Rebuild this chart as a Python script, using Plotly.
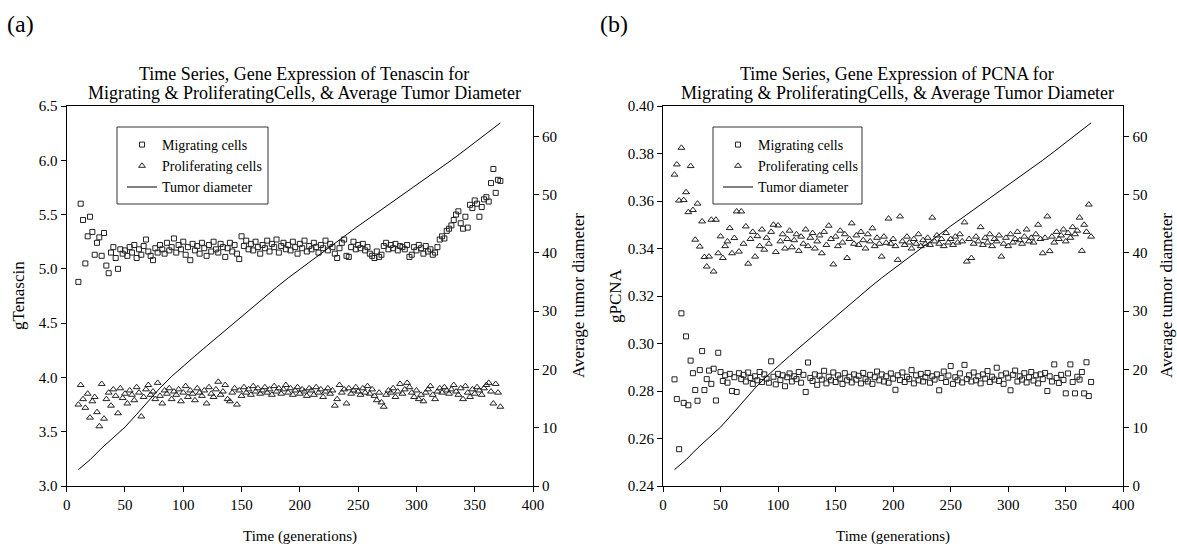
import plotly.graph_objects as go

W, H = 1177, 554

# generations at which cell-state expression was sampled
gens = list(range(10, 373, 2))

# Panel (a): gTenascin
mig_a = [
    4.88, 5.60, 5.45, 5.05, 5.30, 5.48, 5.34, 5.13, 5.24, 5.29,
    5.12, 5.33, 5.03, 4.96, 5.15, 5.20, 5.10, 5.00, 5.18, 5.14,
    5.17, 5.12, 5.20, 5.15, 5.22, 5.10, 5.18, 5.13, 5.21, 5.27,
    5.16, 5.12, 5.08, 5.19, 5.15, 5.22, 5.18, 5.14, 5.24, 5.17,
    5.20, 5.28, 5.15, 5.22, 5.18, 5.25, 5.13, 5.20, 5.08, 5.23,
    5.17, 5.21, 5.14, 5.24, 5.19, 5.12, 5.22, 5.16, 5.25, 5.18,
    5.15, 5.23, 5.20, 5.11, 5.19, 5.24, 5.16, 5.22, 5.14, 5.09,
    5.30, 5.21, 5.26, 5.18, 5.23, 5.17, 5.25, 5.20, 5.14, 5.22,
    5.19, 5.26, 5.16, 5.23, 5.20, 5.27, 5.15, 5.21, 5.24, 5.18,
    5.22, 5.17, 5.25, 5.20, 5.14, 5.23, 5.19, 5.26, 5.16, 5.21,
    5.18, 5.24, 5.20, 5.15, 5.22, 5.19, 5.26, 5.17, 5.23, 5.20,
    5.14, 5.10, 5.19, 5.24, 5.27, 5.12, 5.11, 5.20, 5.25, 5.18,
    5.22, 5.19, 5.23, 5.17, 5.20, 5.14, 5.12, 5.10, 5.16, 5.11,
    5.13, 5.21, 5.24, 5.18, 5.22, 5.19, 5.23, 5.17, 5.21, 5.20,
    5.18, 5.22, 5.11, 5.13, 5.20, 5.17, 5.22, 5.19, 5.14, 5.21,
    5.16, 5.18, 5.13, 5.15, 5.20, 5.27, 5.30, 5.28, 5.35, 5.37,
    5.40, 5.45, 5.50, 5.53, 5.42, 5.37, 5.48, 5.38, 5.59, 5.56,
    5.63, 5.60, 5.48, 5.57, 5.64, 5.66, 5.62, 5.79, 5.92, 5.70,
    5.82, 5.81,
]
pro_a = [
    3.75, 3.93, 3.80, 3.72, 3.85, 3.63, 3.78, 3.82, 3.68, 3.55,
    3.94, 3.62, 3.80, 3.86, 3.74, 3.89, 3.83, 3.67, 3.90, 3.81,
    3.85, 3.76, 3.88, 3.84, 3.79, 3.91, 3.86, 3.64, 3.82, 3.89,
    3.93, 3.84, 3.87, 3.80, 3.95, 3.83, 3.76, 3.88, 3.85, 3.90,
    3.80, 3.87, 3.84, 3.89, 3.78, 3.86, 3.92, 3.82, 3.88, 3.85,
    3.79, 3.90, 3.86, 3.83, 3.88, 3.76, 3.91, 3.85, 3.82, 3.89,
    3.96, 3.84, 3.87, 3.93, 3.80, 3.78, 3.86, 3.90, 3.75, 3.88,
    3.83, 3.91, 3.86, 3.89, 3.84, 3.92, 3.87, 3.90, 3.85, 3.88,
    3.91, 3.86, 3.89, 3.84, 3.92, 3.87, 3.90, 3.85, 3.89, 3.93,
    3.86, 3.90, 3.84, 3.88, 3.91, 3.85, 3.89, 3.87, 3.83, 3.90,
    3.88, 3.84, 3.91, 3.86, 3.89, 3.82, 3.87, 3.90, 3.85, 3.88,
    3.74, 3.80, 3.93, 3.86, 3.89, 3.76, 3.90, 3.85, 3.88, 3.91,
    3.87, 3.84, 3.90, 3.86, 3.92, 3.85, 3.89, 3.83, 3.79, 3.86,
    3.77, 3.73, 3.84, 3.88, 3.86, 3.90, 3.82, 3.87, 3.94, 3.85,
    3.89, 3.95, 3.91, 3.86, 3.82, 3.88, 3.80, 3.84, 3.78, 3.86,
    3.89, 3.92, 3.84, 3.80, 3.87, 3.90, 3.86, 3.91, 3.88, 3.85,
    3.89, 3.93, 3.87, 3.84, 3.90, 3.80, 3.92, 3.86, 3.82, 3.89,
    3.85, 3.91, 3.88, 3.84, 3.90, 3.93, 3.95, 3.87, 3.76, 3.94,
    3.86, 3.73,
]

# Panel (b): gPCNA
mig_b = [
    0.2849, 0.2766, 0.2555, 0.3127, 0.2750, 0.3030, 0.2740, 0.2928, 0.2875, 0.2804,
    0.2759, 0.2888, 0.2968, 0.2804, 0.2850, 0.2886, 0.2830, 0.2894, 0.2760, 0.2961,
    0.2880, 0.2842, 0.2866, 0.2835, 0.2872, 0.2800, 0.2858, 0.2796, 0.2875, 0.2850,
    0.2868, 0.2840, 0.2878, 0.2855, 0.2830, 0.2862, 0.2845, 0.2880, 0.2838, 0.2870,
    0.2852, 0.2835, 0.2925, 0.2860, 0.2828, 0.2872, 0.2846, 0.2866, 0.2820, 0.2858,
    0.2874, 0.2840, 0.2862, 0.2850, 0.2880, 0.2835, 0.2868, 0.2796, 0.2920, 0.2855,
    0.2842, 0.2870, 0.2826, 0.2864, 0.2848, 0.2885, 0.2832, 0.2860, 0.2845, 0.2878,
    0.2838, 0.2866, 0.2852, 0.2830, 0.2875, 0.2845, 0.2860, 0.2836, 0.2870, 0.2848,
    0.2864, 0.2832, 0.2876, 0.2850, 0.2840, 0.2868, 0.2830, 0.2858, 0.2882, 0.2845,
    0.2870, 0.2840, 0.2862, 0.2835, 0.2874, 0.2852, 0.2805, 0.2866, 0.2846, 0.2878,
    0.2838, 0.2860, 0.2850, 0.2888, 0.2832, 0.2866, 0.2845, 0.2872, 0.2840, 0.2858,
    0.2876, 0.2835, 0.2862, 0.2848, 0.2870, 0.2803, 0.2855, 0.2882, 0.2838, 0.2865,
    0.2905, 0.2830, 0.2858, 0.2845, 0.2874, 0.2836, 0.2910, 0.2850, 0.2866, 0.2840,
    0.2878, 0.2845, 0.2862, 0.2832, 0.2870, 0.2852, 0.2884, 0.2838, 0.2860, 0.2848,
    0.2898, 0.2842, 0.2866, 0.2830, 0.2874, 0.2856, 0.2803, 0.2868, 0.2886, 0.2840,
    0.2862, 0.2848, 0.2875, 0.2836, 0.2858, 0.2880, 0.2844, 0.2866, 0.2832, 0.2870,
    0.2850, 0.2876, 0.2800, 0.2862, 0.2840, 0.2912, 0.2855, 0.2834, 0.2868, 0.2846,
    0.2790, 0.2874, 0.2912, 0.2838, 0.2790, 0.2860, 0.2848, 0.2880, 0.2790, 0.2921,
    0.2779, 0.2838,
]
pro_b = [
    0.3711, 0.3754, 0.3602, 0.3824, 0.3604, 0.3637, 0.3553, 0.3747, 0.3562, 0.3437,
    0.3589, 0.3408, 0.3514, 0.3364, 0.3324, 0.3366, 0.3521, 0.3303, 0.3521, 0.3380,
    0.3451, 0.3360, 0.3410, 0.3430, 0.3486, 0.3380, 0.3444, 0.3556, 0.3387, 0.3556,
    0.3420, 0.3493, 0.3336, 0.3440, 0.3470, 0.3366, 0.3452, 0.3410, 0.3480, 0.3395,
    0.3445, 0.3420, 0.3470, 0.3500, 0.3385, 0.3497, 0.3430, 0.3460, 0.3400, 0.3440,
    0.3475, 0.3405, 0.3435, 0.3460, 0.3390, 0.3450, 0.3420, 0.3480, 0.3410, 0.3445,
    0.3465, 0.3400, 0.3430, 0.3455, 0.3380, 0.3470, 0.3415, 0.3496, 0.3440, 0.3333,
    0.3450, 0.3410, 0.3475, 0.3425, 0.3460, 0.3360, 0.3440, 0.3506, 0.3420, 0.3455,
    0.3415, 0.3470, 0.3435, 0.3400, 0.3460, 0.3430, 0.3485, 0.3410, 0.3445, 0.3420,
    0.3366, 0.3450, 0.3424, 0.3526, 0.3420, 0.3440, 0.3410, 0.3352, 0.3535, 0.3430,
    0.3415, 0.3450, 0.3425, 0.3400, 0.3440, 0.3420, 0.3460, 0.3410, 0.3435, 0.3420,
    0.3445, 0.3415, 0.3530, 0.3430, 0.3455, 0.3420, 0.3440, 0.3410, 0.3465, 0.3425,
    0.3440, 0.3415, 0.3450, 0.3425, 0.3460, 0.3430, 0.3510, 0.3345, 0.3440, 0.3360,
    0.3420, 0.3450, 0.3430, 0.3490, 0.3415, 0.3445, 0.3425, 0.3460, 0.3410, 0.3440,
    0.3430, 0.3455, 0.3366, 0.3420, 0.3445, 0.3410, 0.3460, 0.3425, 0.3440, 0.3470,
    0.3435, 0.3420, 0.3450, 0.3480, 0.3430, 0.3445, 0.3425, 0.3460, 0.3500, 0.3440,
    0.3380, 0.3445, 0.3535, 0.3389, 0.3450, 0.3425, 0.3470, 0.3440, 0.3455, 0.3480,
    0.3430, 0.3465, 0.3445, 0.3490, 0.3460, 0.3475, 0.3530, 0.3390, 0.3500, 0.3470,
    0.3585, 0.3450,
]

# Average tumor diameter (right axes)
tumor_gen = [10, 20, 30, 40, 50, 60, 70, 80, 90, 100, 110, 120, 130, 140, 150, 160, 170, 180,
             190, 200, 210, 220, 230, 240, 250, 260, 270, 280, 290, 300, 310, 320, 330, 340,
             350, 360, 372]
tumor_dia = [2.8, 4.5, 6.5, 8.3, 10.1, 12.3, 14.6, 16.8, 18.8, 20.6, 22.3, 24.0, 25.7, 27.4,
             29.1, 30.8, 32.5, 34.1, 35.7, 37.2, 38.7, 40.2, 41.7, 43.2, 44.6, 46.0, 47.4,
             48.8, 50.2, 51.6, 53.0, 54.4, 55.9, 57.4, 58.9, 60.5, 62.3]

x_ticks = [0, 50, 100, 150, 200, 250, 300, 350, 400]

FONT = "Liberation Serif, Times New Roman, serif"
INK = "#222222"

def px_x(p):
    return p / W

def px_y(p):
    return 1 - p / H

fig = go.Figure()

mk_sq = dict(symbol="square-open", size=5, color=INK, line=dict(width=1, color=INK))
mk_tr = dict(symbol="triangle-up-open", size=6, color=INK, line=dict(width=1, color=INK))
ln = dict(color="black", width=1)

# panel a
fig.add_trace(go.Scatter(x=gens, y=mig_a, mode="markers", marker=mk_sq, name="Migrating cells",
                         xaxis="x", yaxis="y", legend="legend"))
fig.add_trace(go.Scatter(x=gens, y=pro_a, mode="markers", marker=mk_tr, name="Proliferating cells",
                         xaxis="x", yaxis="y", legend="legend"))
fig.add_trace(go.Scatter(x=tumor_gen, y=tumor_dia, mode="lines", line=ln, name="Tumor diameter",
                         xaxis="x", yaxis="y2", legend="legend"))
# panel b
fig.add_trace(go.Scatter(x=gens, y=mig_b, mode="markers", marker=mk_sq, name="Migrating cells",
                         xaxis="x2", yaxis="y3", legend="legend2"))
fig.add_trace(go.Scatter(x=gens, y=pro_b, mode="markers", marker=mk_tr, name="Proliferating cells",
                         xaxis="x2", yaxis="y3", legend="legend2"))
fig.add_trace(go.Scatter(x=tumor_gen, y=tumor_dia, mode="lines", line=ln, name="Tumor diameter",
                         xaxis="x2", yaxis="y4", legend="legend2"))

ydom = [px_y(486), px_y(106)]
dom_a = [px_x(66.7), px_x(533)]
dom_b = [px_x(663), px_x(1123.3)]

axfont = dict(family=FONT, size=15, color="black")
common_x = dict(range=[0, 400], tickvals=x_ticks, showline=True, linecolor="black", linewidth=1.2,
                mirror=True, ticks="outside", ticklen=5, tickcolor="black", tickwidth=1,
                showgrid=False, zeroline=False, tickfont=axfont, automargin=False)
common_y = dict(showline=True, linecolor="black", linewidth=1.2, ticks="outside", ticklen=5,
                tickcolor="black", tickwidth=1, showgrid=False, zeroline=False, tickfont=axfont,
                automargin=False)

leg_common = dict(xanchor="left", yanchor="top", bgcolor="rgba(0,0,0,0)", borderwidth=0,
                  font=dict(family=FONT, size=14, color="black"), tracegroupgap=0)

fig.update_layout(
    template="none",
    width=W, height=H, margin=dict(l=0, r=0, t=0, b=0, pad=0, autoexpand=False),
    paper_bgcolor="white", plot_bgcolor="white",
    font=dict(family=FONT, color="black"),
    xaxis=dict(domain=dom_a, anchor="y", **common_x),
    yaxis=dict(domain=ydom, anchor="x", range=[3.0, 6.5], dtick=0.5, tickformat=".1f", **common_y),
    yaxis2=dict(overlaying="y", side="right", anchor="x", range=[0, 65.2], dtick=10, **common_y),
    xaxis2=dict(domain=dom_b, anchor="y3", **common_x),
    yaxis3=dict(domain=ydom, anchor="x2", range=[0.24, 0.40], dtick=0.02, tickformat=".2f", **common_y),
    yaxis4=dict(overlaying="y3", side="right", anchor="x2", range=[0, 65.2], dtick=10, **common_y),
    legend=dict(x=px_x(122), y=px_y(129), **leg_common),
    legend2=dict(x=px_x(718), y=px_y(129), **leg_common),
)

# legend frames
for (x0, x1) in [(117, 268), (713, 862)]:
    fig.add_shape(type="rect", xref="paper", yref="paper", x0=px_x(x0), x1=px_x(x1),
                  y0=px_y(204), y1=px_y(127), line=dict(color="#333333", width=1))

def ann(text, x, y, size, xanchor="center", angle=0):
    fig.add_annotation(text=text, xref="paper", yref="paper", x=px_x(x), y=px_y(y),
                       xanchor=xanchor, yanchor="middle", showarrow=False, textangle=angle,
                       font=dict(family=FONT, size=size, color="black"))

ann("(a)", 5, 24, 24, xanchor="left")
ann("(b)", 598, 24, 24, xanchor="left")
ann("Time Series, Gene Expression of Tenascin for", 304, 74, 18)
ann("Migrating &amp; ProliferatingCells, &amp; Average Tumor Diameter", 304, 93, 18)
ann("Time Series, Gene Expression of PCNA for", 897, 74, 18)
ann("Migrating &amp; ProliferatingCells, &amp; Average Tumor Diameter", 897, 93, 18)
ann("gTenascin", 18, 296, 17, angle=-90)
ann("gPCNA", 615, 296, 17, angle=-90)
ann("Average tumor diameter", 578, 296, 17, angle=-90)
ann("Average tumor diameter", 1166, 296, 17, angle=-90)
ann("Time (generations)", 300, 536, 15)
ann("Time (generations)", 893, 536, 15)

fig.write_html("out.html", config={"displayModeBar": False},
               post_script="document.body.style.margin='0px';document.body.style.overflow='hidden';")
